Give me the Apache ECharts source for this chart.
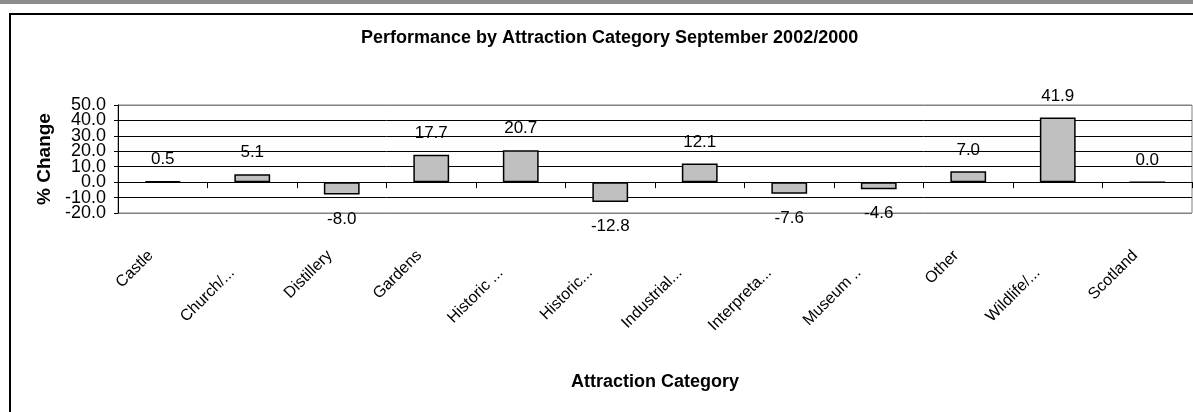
<!DOCTYPE html>
<html>
<head>
<meta charset="utf-8">
<script src="https://cdn.jsdelivr.net/npm/echarts@6/dist/echarts.min.js"></script>
<style>
html,body{margin:0;padding:0;background:#fff;}
#chart{width:1193px;height:412px;}
</style>
</head>
<body>
<div id="chart"></div>
<script>
var categories = ['Castle', 'Church/...', 'Distillery', 'Gardens', 'Historic ...', 'Historic...', 'Industrial...', 'Interpreta...', 'Museum ..', 'Other', 'Wildlife/...', 'Scotland'];
var values = [0.5, 5.1, -8.0, 17.7, 20.7, -12.8, 12.1, -7.6, -4.6, 7.0, 41.9, 0.0];
var yMin = -20, yMax = 50, yStep = 10;
var titleText = 'Performance by Attraction Category September 2002/2000';
var xTitle = 'Attraction Category';
var yTitle = '% Change';

var FONT = "'Liberation Sans', Arial, sans-serif";
var chart = echarts.init(document.getElementById('chart'), null, {renderer: 'canvas'});

var barData = values.map(function (v) {
  return {
    value: v,
    label: v < 0 ? {position: 'bottom', distance: 16} : {position: 'top', distance: 13}
  };
});

// y tick labels are split over two coincident axes (alternate ticks) so that
// the tightly packed labels are all drawn, as in the original
function yLabelFormatter(parity) {
  return function (v) {
    var k = Math.round((v - yMin) / yStep);
    return (k % 2 === parity) ? v.toFixed(1) : '';
  };
}

function yLabelAxis(parity, extra) {
  var ax = {
    type: 'value',
    position: 'left',
    min: yMin, max: yMax, interval: yStep,
    axisLabel: {
      margin: 12, color: '#000', fontFamily: FONT, fontSize: 18,
      showMinLabel: true, showMaxLabel: true,
      formatter: yLabelFormatter(parity)
    }
  };
  for (var key in extra) ax[key] = extra[key];
  return ax;
}

var option = {
  backgroundColor: '#ffffff',
  animation: false,
  textStyle: {fontFamily: FONT},
  title: {
    text: titleText,
    left: 361,
    top: 29,
    padding: 0,
    textStyle: {fontFamily: FONT, fontWeight: 'bold', fontSize: 18, color: '#000'}
  },
  graphic: [
    {type: 'rect', left: 0, top: 0, shape: {x: 0, y: 0, width: 1193, height: 4}, style: {fill: '#8c8c8c'}, silent: true},
    {type: 'rect', shape: {x: 10, y: 14, width: 1400, height: 600}, style: {fill: 'none', stroke: '#000', lineWidth: 2}, silent: true}
  ],
  grid: {
    left: 118, right: 1, top: 105, bottom: 199,
    show: true, borderColor: '#808080', borderWidth: 1, backgroundColor: 'transparent'
  },
  xAxis: [
    {
      type: 'category',
      data: categories,
      position: 'bottom',
      axisLine: {onZero: true, lineStyle: {color: '#000', width: 1}},
      axisTick: {show: true, length: 6, lineStyle: {color: '#000'}},
      axisLabel: {show: false},
      splitLine: {show: false}
    },
    {
      type: 'category',
      data: categories,
      position: 'bottom',
      axisLine: {show: false, onZero: false},
      axisTick: {show: false},
      splitLine: {show: false},
      name: xTitle,
      nameLocation: 'middle',
      nameGap: 160,
      nameTextStyle: {fontFamily: FONT, fontWeight: 'bold', fontSize: 18, color: '#000'},
      axisLabel: {
        show: true,
        interval: 0,
        rotate: 45,
        margin: 28,
        color: '#000',
        fontFamily: FONT,
        fontSize: 16,
        hideOverlap: false,
        formatter: function (v) {
          return /\.$/.test(v) ? '{b|' + v + '}' : '{a|' + v + '}';
        },
        rich: {
          a: {fontFamily: FONT, fontSize: 16, color: '#000', padding: [0, 17, 0, 0]},
          b: {fontFamily: FONT, fontSize: 16, color: '#000', padding: [13, 35, 0, 0]}
        }
      }
    }
  ],
  yAxis: [
    yLabelAxis(0, {
      name: yTitle,
      nameLocation: 'middle',
      nameGap: 59,
      nameTextStyle: {fontFamily: FONT, fontWeight: 'bold', fontSize: 19, color: '#000'},
      axisLine: {show: true, onZero: false, lineStyle: {color: '#000', width: 1}},
      axisTick: {show: true, length: 4, lineStyle: {color: '#000'}},
      splitLine: {
        show: true,
        lineStyle: {color: ['#808080', '#000', '#000', '#000', '#000', '#000', '#000', '#808080'], width: 1}
      }
    }),
    yLabelAxis(1, {
      axisLine: {show: false, onZero: false},
      axisTick: {show: false},
      splitLine: {show: false}
    })
  ],
  series: [{
    type: 'bar',
    xAxisIndex: 0,
    yAxisIndex: 0,
    data: barData,
    barWidth: '40%',
    itemStyle: {color: '#c0c0c0', borderColor: '#000', borderWidth: 1.5},
    label: {
      show: true,
      color: '#000',
      fontFamily: FONT,
      fontSize: 17,
      formatter: function (p) { return p.value.toFixed(1); }
    }
  }]
};
chart.setOption(option);
</script>
</body>
</html>
